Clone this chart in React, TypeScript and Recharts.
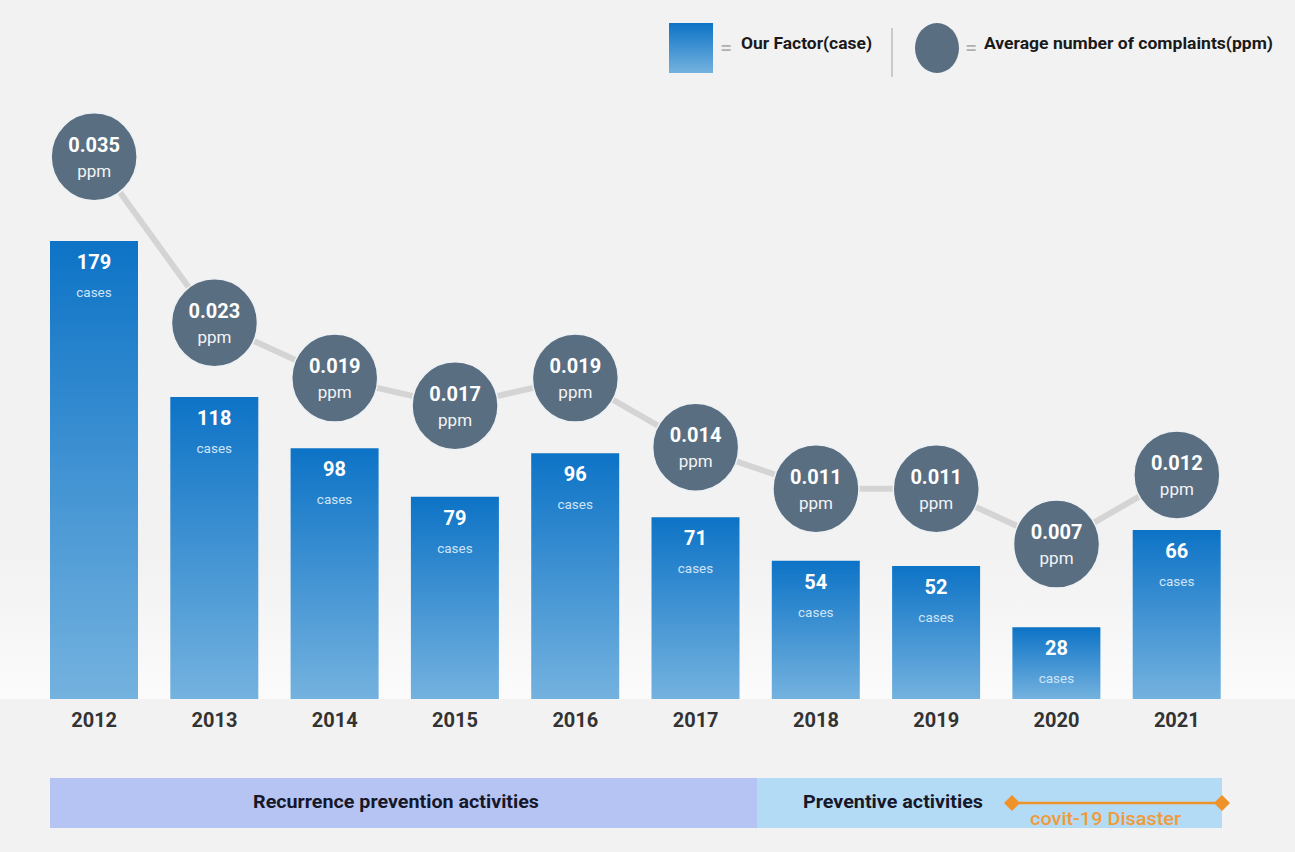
import React from "react";
import { Bar, ComposedChart, LabelList, Line, XAxis, YAxis } from "recharts";

// Chart values.
const years = ["2012", "2013", "2014", "2015", "2016", "2017", "2018", "2019", "2020", "2021"];
const caseCounts = [179, 118, 98, 79, 96, 71, 54, 52, 28, 66];
const ppmValues = [0.035, 0.023, 0.019, 0.017, 0.019, 0.014, 0.011, 0.011, 0.007, 0.012];

const legendLabels = ["Our Factor(case)", "Average number of complaints(ppm)"];
const phaseLabels = ["Recurrence prevention activities", "Preventive activities"];
const disasterLabel = "covit-19 Disaster";

const FONT = "Roboto, 'Noto Sans', sans-serif";
const W = 1295;
const H = 852;

type Row = { year: string; cases: number; ppm: number };
const rows: Row[] = years.map((year, i) => ({ year, cases: caseCounts[i], ppm: ppmValues[i] }));

/** Two-line white label inside the top of each bar. */
function BarLabel(props: any) {
  const { x, y, width, value } = props;
  const cx = x + width / 2;
  return (
    <g fontFamily={FONT} textAnchor="middle">
      <text x={cx} y={y + 28} fill="#fff" fontSize={20} fontWeight={700}>
        {value}
      </text>
      <text x={cx} y={y + 56} fill="#cfe4f6" fontSize={13.5}>
        cases
      </text>
    </g>
  );
}

/** Big slate bubble with the ppm value written inside. */
function PpmDot(props: any) {
  const { cx, cy, payload, index } = props;
  if (cx == null || cy == null) return null;
  return (
    <g key={`dot-${index}`} fontFamily={FONT} textAnchor="middle">
      <ellipse cx={cx} cy={cy} rx={43} ry={44} fill="#5a6e81" stroke="#eef1f4" strokeWidth={1.5} />
      <text x={cx} y={cy - 5} fill="#fff" fontSize={20} fontWeight={700}>
        {payload.ppm.toFixed(3)}
      </text>
      <text x={cx} y={cy + 20} fill="#f2f4f6" fontSize={17}>
        ppm
      </text>
    </g>
  );
}

function YearTick(props: any) {
  const { x, y, payload } = props;
  return (
    <text x={x} y={y + 20} textAnchor="middle" fontFamily={FONT} fontSize={20} fontWeight={700} fill="#333">
      {payload.value}
    </text>
  );
}

function Diamond({ x, y }: { x: number; y: number }) {
  const s = 8;
  return <polygon points={`${x - s},${y} ${x},${y - s} ${x + s},${y} ${x},${y + s}`} fill="#f0922a" />;
}

/** Backdrop: page gray plus the faint light fade at the foot of the plot. */
function Backdrop() {
  return (
    <svg width={W} height={H} style={{ position: "absolute", left: 0, top: 0 }}>
      <defs>
        <linearGradient id="floorFade" x1="0" y1="0" x2="0" y2="1">
          <stop offset="0%" stopColor="#f2f2f2" />
          <stop offset="100%" stopColor="#fbfbfb" />
        </linearGradient>
      </defs>
      <rect x={0} y={0} width={W} height={H} fill="#f2f2f2" />
      <rect x={0} y={560} width={W} height={139} fill="url(#floorFade)" />
    </svg>
  );
}

/** Legend at the top right and the activity bands under the axis. */
function Annotations() {
  return (
    <svg width={W} height={H} style={{ position: "absolute", left: 0, top: 0, pointerEvents: "none" }}>
      <defs>
        <linearGradient id="legendBlue" x1="0" y1="0" x2="0" y2="1">
          <stop offset="0%" stopColor="#0d73c6" />
          <stop offset="100%" stopColor="#74b2df" />
        </linearGradient>
      </defs>
      <g fontFamily={FONT}>
        <rect x={669} y={23} width={44} height={50} fill="url(#legendBlue)" />
        <text x={720} y={55} fill="#b0b0b0" fontSize={22}>=</text>
        <text x={741} y={49} fontSize={17} fontWeight={700} fill="#1a1a1a" textLength={131} lengthAdjust="spacingAndGlyphs">
          {legendLabels[0]}
        </text>
        <line x1={892} y1={28} x2={892} y2={77} stroke="#bdbdbd" strokeWidth={1.5} />
        <ellipse cx={937} cy={48} rx={22} ry={25} fill="#5a6e81" />
        <text x={965} y={55} fill="#b0b0b0" fontSize={22}>=</text>
        <text x={984} y={49} fontSize={17} fontWeight={700} fill="#1a1a1a" textLength={289} lengthAdjust="spacingAndGlyphs">
          {legendLabels[1]}
        </text>

        <rect x={50} y={778} width={707} height={50} fill="#b6c4f3" />
        <rect x={757} y={778} width={465} height={50} fill="#b4dbf6" />
        <text x={253} y={808} fontSize={19} fontWeight={700} fill="#16182a" textLength={286} lengthAdjust="spacingAndGlyphs">
          {phaseLabels[0]}
        </text>
        <text x={803} y={808} fontSize={19} fontWeight={700} fill="#16182a" textLength={180} lengthAdjust="spacingAndGlyphs">
          {phaseLabels[1]}
        </text>
        <line x1={1012} y1={803} x2={1222} y2={803} stroke="#f0922a" strokeWidth={2.5} />
        <Diamond x={1012} y={803} />
        <Diamond x={1222} y={803} />
        <text x={1030} y={825} fontSize={18} fontWeight={500} fill="#f09a3a" textLength={151} lengthAdjust="spacingAndGlyphs">
          {disasterLabel}
        </text>
      </g>
    </svg>
  );
}

export default function App() {
  return (
    <div style={{ position: "absolute", left: 0, top: 0, width: W, height: H, overflow: "hidden" }}>
      <Backdrop />
      <div style={{ position: "absolute", left: 0, top: 0 }}>
        <ComposedChart
          width={W}
          height={H}
          data={rows}
          margin={{ top: 136, right: 58, bottom: 123, left: 34 }}
        >
          <defs>
            <linearGradient id="barBlue" x1="0" y1="0" x2="0" y2="1">
              <stop offset="0%" stopColor="#0d73c6" />
              <stop offset="100%" stopColor="#74b2df" />
            </linearGradient>
          </defs>
          <XAxis
            dataKey="year"
            axisLine={false}
            tickLine={false}
            height={30}
            interval={0}
            tick={<YearTick />}
          />
          <YAxis yAxisId="cases" hide domain={[0, 220]} />
          <YAxis yAxisId="ppm" hide orientation="right" domain={[-0.0042, 0.0365]} />
          <Bar yAxisId="cases" dataKey="cases" fill="url(#barBlue)" barSize={88} isAnimationActive={false}>
            <LabelList dataKey="cases" content={<BarLabel />} />
          </Bar>
          <Line
            yAxisId="ppm"
            dataKey="ppm"
            type="linear"
            stroke="#d4d4d4"
            strokeWidth={6}
            dot={(p: any) => <PpmDot {...p} />}
            activeDot={false}
            isAnimationActive={false}
          />
        </ComposedChart>
      </div>
      <Annotations />
    </div>
  );
}
